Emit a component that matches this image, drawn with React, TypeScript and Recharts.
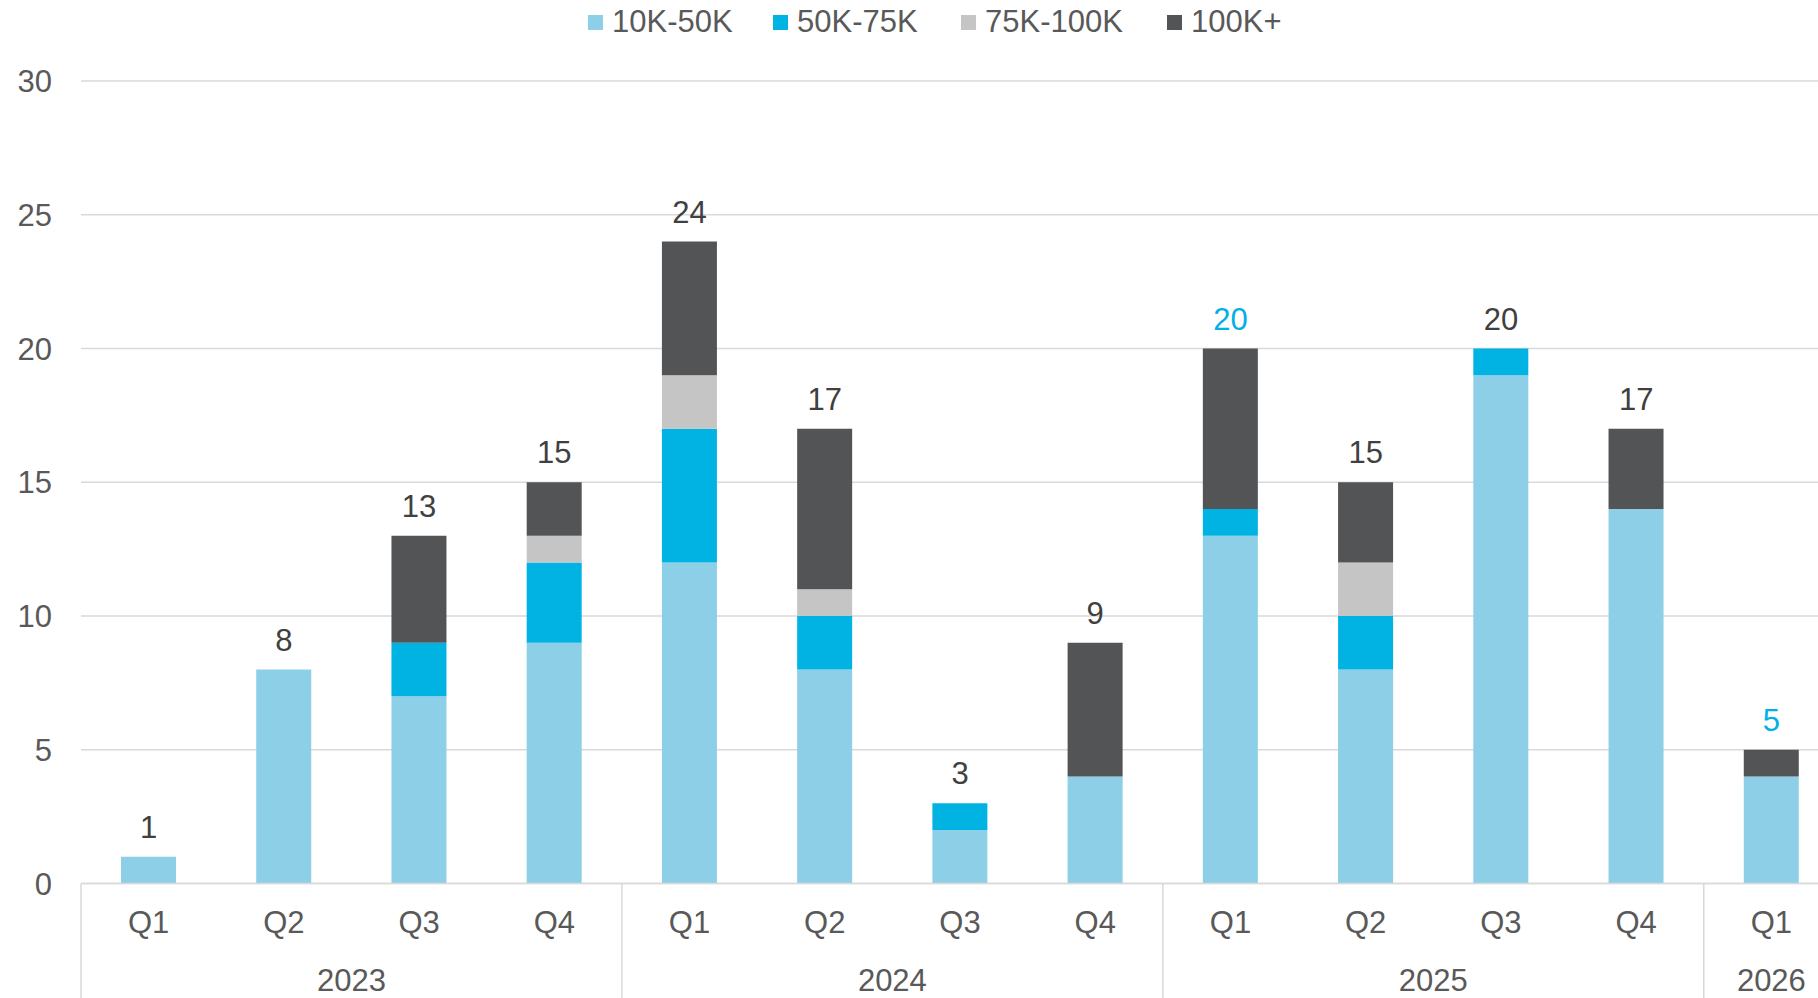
import React from 'react';
import { ComposedChart, Bar, Line, XAxis, YAxis, CartesianGrid, Legend, LabelList } from 'recharts';

// quarters and the year each belongs to
const quarters = ['Q1', 'Q2', 'Q3', 'Q4', 'Q1', 'Q2', 'Q3', 'Q4', 'Q1', 'Q2', 'Q3', 'Q4', 'Q1'];
const years = ['2023', '2023', '2023', '2023', '2024', '2024', '2024', '2024', '2025', '2025', '2025', '2025', '2026'];

// deal counts per size bucket
const tier10to50 = [1, 8, 7, 9, 12, 8, 2, 4, 13, 8, 19, 14, 4];
const tier50to75 = [0, 0, 2, 3, 5, 2, 1, 0, 1, 2, 1, 0, 0];
const tier75to100 = [0, 0, 0, 1, 2, 1, 0, 0, 0, 2, 0, 0, 0];
const tier100plus = [0, 0, 4, 2, 5, 6, 0, 5, 6, 3, 0, 3, 1];

// totals shown in blue
const highlighted = [8, 12];

const yTicks = [0, 5, 10, 15, 20, 25, 30];

const series = [
  { key: 'a', name: '10K-50K', color: '#8ccfe6' },
  { key: 'b', name: '50K-75K', color: '#00b3e3' },
  { key: 'c', name: '75K-100K', color: '#c6c5c6' },
  { key: 'd', name: '100K+', color: '#535456' },
];

const data = quarters.map((q, i) => ({
  q,
  year: years[i],
  a: tier10to50[i],
  b: tier50to75[i],
  c: tier75to100[i],
  d: tier100plus[i],
  total: tier10to50[i] + tier50to75[i] + tier75to100[i] + tier100plus[i],
}));

const FONT = '"Liberation Sans", Arial, sans-serif';
const AXIS_TEXT = '#595959';
const GRID = '#d9d9d9';

// quarter label, plus the year label and divider at the start of each year
const QuarterTick = (props: any) => {
  const { x, y, payload } = props;
  const i = payload.index;
  const half = payload.offset;
  const isFirst = i === 0 || years[i - 1] !== years[i];
  let last = i;
  while (last + 1 < years.length && years[last + 1] === years[i]) last++;
  return (
    <g>
      <text x={x} y={y} dy="0.71em" textAnchor="middle" fill={AXIS_TEXT} fontSize={31} fontFamily={FONT}>
        {payload.value}
      </text>
      {isFirst && (
        <>
          <line x1={x - half} x2={x - half} y1={y - 27} y2={y + 140} stroke={GRID} strokeWidth={1.5} />
          <text
            x={x + (last - i) * half}
            y={y + 58}
            dy="0.71em"
            textAnchor="middle"
            fill={AXIS_TEXT}
            fontSize={31}
            fontFamily={FONT}
          >
            {years[i]}
          </text>
        </>
      )}
    </g>
  );
};

// total above each stack, placed on the invisible total line
const TotalLabel = (props: any) => {
  const { x, y, value, index } = props;
  const blue = highlighted.includes(index);
  return (
    <text x={x} y={y - 19} textAnchor="middle" fill={blue ? '#00b0e6' : '#404040'} fontSize={31} fontFamily={FONT}>
      {value}
    </text>
  );
};

const itemWidths = [185, 188, 206, 160];

const LegendContent = () => (
  <div style={{ height: 44, display: 'flex', alignItems: 'center', paddingLeft: 588 }}>
    {series.map((s, i) => (
      <div key={s.key} style={{ width: itemWidths[i], display: 'flex', alignItems: 'center' }}>
        <span style={{ width: 15, height: 15, background: s.color, marginRight: 9, display: 'inline-block' }} />
        <span style={{ fontFamily: FONT, fontSize: 31, color: AXIS_TEXT }}>{s.name}</span>
      </div>
    ))}
  </div>
);

export default function App() {
  return (
    <div style={{ position: 'absolute', left: 0, top: 0, width: 1818, height: 998, overflow: 'hidden', background: '#fff' }}>
      <ComposedChart width={1845} height={1000} data={data} margin={{ top: 37, right: 6, bottom: 0, left: 0 }} barSize={55}>
        <Legend verticalAlign="top" align="left" content={<LegendContent />} wrapperStyle={{ top: 0, left: 0 }} />
        <CartesianGrid vertical={false} stroke={GRID} strokeWidth={1.5} />
        <XAxis
          dataKey="q"
          height={116.5}
          axisLine={{ stroke: GRID, strokeWidth: 1.5 }}
          tickLine={false}
          tickSize={0}
          tickMargin={27}
          interval={0}
          tick={<QuarterTick />}
        />
        <YAxis
          width={81}
          domain={[0, 30]}
          ticks={yTicks}
          axisLine={false}
          tickLine={false}
          tickSize={0}
          tickMargin={29}
          tick={{ fill: AXIS_TEXT, fontSize: 31, fontFamily: FONT }}
        />
        {series.map((s) => (
          <Bar key={s.key} dataKey={s.key} name={s.name} stackId="deals" fill={s.color} isAnimationActive={false} />
        ))}
        <Line
          dataKey="total"
          stroke="none"
          dot={false}
          activeDot={false}
          legendType="none"
          isAnimationActive={false}
        >
          <LabelList dataKey="total" content={<TotalLabel />} />
        </Line>
      </ComposedChart>
    </div>
  );
}
